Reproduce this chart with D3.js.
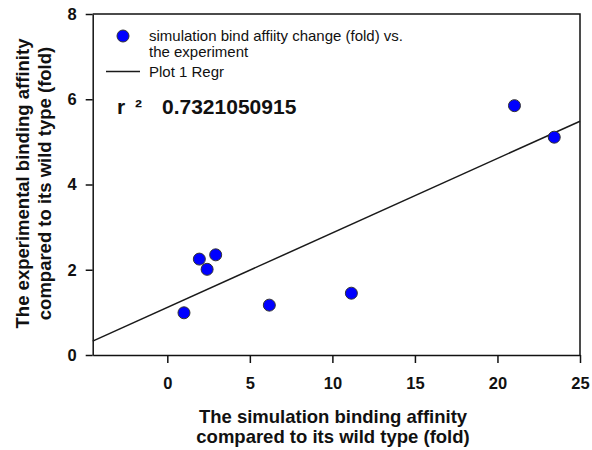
<!DOCTYPE html>
<html>
<head>
<meta charset="utf-8">
<script src="https://cdn.jsdelivr.net/npm/d3@7"></script>
<style>
  body { margin: 0; background: #fff; }
  svg text { font-family: Arial, "Liberation Sans", sans-serif; fill: #111; }
</style>
</head>
<body>
<div class="chart"><svg></svg></div>
<script>
"use strict";

// values
const simFold = [1.01, 1.94, 2.41, 2.93, 6.18, 11.15, 21.03, 23.44];
const expFold = [0.99, 2.25, 2.01, 2.35, 1.17, 1.45, 5.85, 5.11];
const xTicks = [0, 5, 10, 15, 20, 25];
const yTicks = [0, 2, 4, 6, 8];
const legendLabels = ['simulation bind affiity change (fold) vs.', 'the experiment', 'Plot 1 Regr'];
const rSquaredText = '0.7321050915';
const xTitle = ['The simulation binding affinity', 'compared to its wild type (fold)'];
const yTitle = ['The experimental binding affinity', 'compared to its wild type (fold)'];

const W = 592, H = 450;
const padL = 92.7, padR = 580, padT = 14, padB = 355;

const svg = d3.select('.chart').select('svg')
    .attr('width', W)
    .attr('height', H);

const x = d3.scaleLinear().domain([-4.52, 25]).range([padL, padR]);
const y = d3.scaleLinear().domain([0, 8]).range([padB, padT]);

const pts = simFold.map((d, i) => [d, expFold[i]]);

// least squares line
const mx = d3.mean(simFold), my = d3.mean(expFold);
const sxy = d3.sum(pts, d => (d[0]-mx)*(d[1]-my));
const sxx = d3.sum(pts, d => (d[0]-mx)*(d[0]-mx));
const slope = sxy/sxx;
const icpt = my - slope*mx;

// frame (top + right)
svg.append('path')
    .attr('d', `M${padL},${padT}H${padR}V${padB}`)
    .attr('fill', 'none')
    .attr('stroke', '#111')
    .attr('stroke-width', 1.5);

const xAxis = svg.append('g')
    .attr('transform', `translate(0,${padB})`)
    .call(d3.axisBottom(x).tickValues(xTicks).tickSize(8).tickPadding(14).tickSizeOuter(0));
const yAxis = svg.append('g')
    .attr('transform', `translate(${padL},0)`)
    .call(d3.axisLeft(y).tickValues(yTicks).tickSize(7).tickPadding(9).tickSizeOuter(0));

[xAxis, yAxis].forEach(g => {
    g.select('.domain').attr('stroke', '#111').attr('stroke-width', 1.5);
    g.selectAll('.tick line').attr('stroke', '#111').attr('stroke-width', 1.5);
    g.selectAll('.tick text')
        .attr('font-family', 'Arial, "Liberation Sans", sans-serif')
        .attr('font-size', 16.5)
        .attr('font-weight', 'bold')
        .attr('fill', '#111');
});

// regression line
const xd = x.domain();
svg.append('line')
    .attr('x1', x(xd[0]))
    .attr('y1', y(icpt + slope*xd[0]))
    .attr('x2', x(xd[1]))
    .attr('y2', y(icpt + slope*xd[1]))
    .attr('stroke', '#1a1a1a')
    .attr('stroke-width', 1.5);

// points
svg.append('g').selectAll('circle')
    .data(pts)
    .join('circle')
    .attr('cx', d => x(d[0]))
    .attr('cy', d => y(d[1]))
    .attr('r', 6)
    .attr('fill', '#0000ff')
    .attr('stroke', '#333')
    .attr('stroke-width', 1);

// legend
const lg = svg.append('g');
lg.append('circle')
    .attr('cx', 123).attr('cy', 36).attr('r', 6)
    .attr('fill', '#0000ff').attr('stroke', '#333').attr('stroke-width', 1);
lg.append('line')
    .attr('x1', 106).attr('x2', 140).attr('y1', 71.5).attr('y2', 71.5)
    .attr('stroke', '#1a1a1a').attr('stroke-width', 1.5);
lg.selectAll('text')
    .data(legendLabels)
    .join('text')
    .attr('x', 149)
    .attr('y', (d, i) => [40.5, 57, 77][i])
    .attr('font-size', 15)
    .text(d => d);

// r squared
const rt = svg.append('text')
    .attr('y', 113.5)
    .attr('font-size', 21).attr('font-weight', 'bold');
rt.append('tspan').attr('x', 117).text('r');
rt.append('tspan').attr('x', 135).text('\u00b2');
rt.append('tspan').attr('x', 162).text(rSquaredText);

// axis titles
svg.append('g').selectAll('text')
    .data(xTitle)
    .join('text')
    .attr('x', 333)
    .attr('y', (d, i) => 423 + i*20)
    .attr('text-anchor', 'middle')
    .attr('font-size', 18.5).attr('font-weight', 'bold')
    .text(d => d);

svg.append('g').selectAll('text')
    .data(yTitle)
    .join('text')
    .attr('transform', (d, i) => `translate(${29 + i*22},${183.5}) rotate(-90)`)
    .attr('text-anchor', 'middle')
    .attr('font-size', 18.5).attr('font-weight', 'bold')
    .text(d => d);
</script>
</body>
</html>
